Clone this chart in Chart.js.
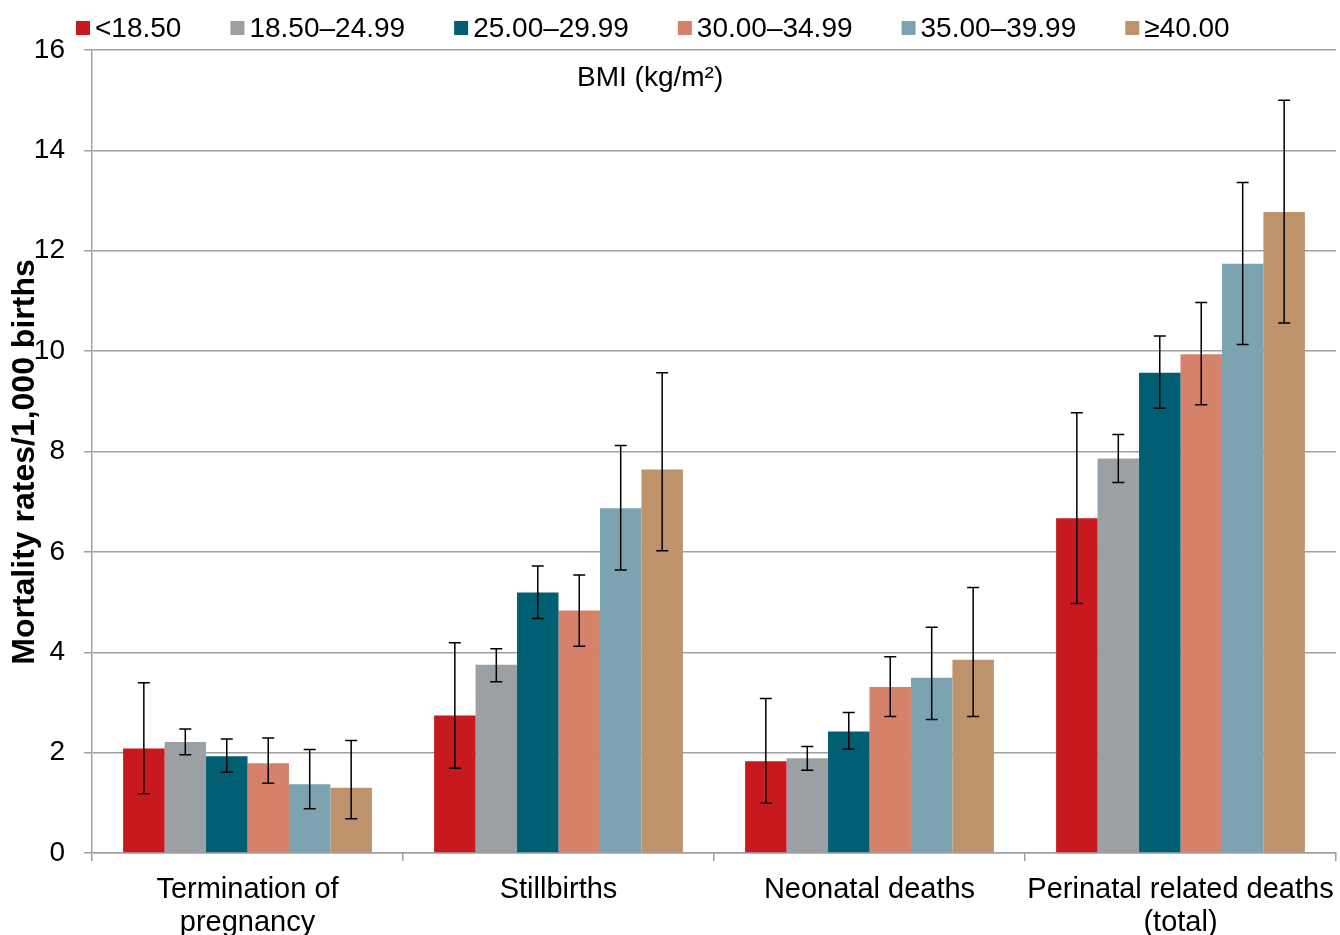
<!DOCTYPE html>
<html>
<head>
<meta charset="utf-8">
<script src="https://cdn.jsdelivr.net/npm/chart.js@4.4.0/dist/chart.umd.min.js"></script>
<style>
  html, body { margin: 0; padding: 0; background: #fff; overflow: hidden; }
</style>
</head>
<body>
<canvas id="bmi_chart" width="1340" height="935"></canvas>
<script>
// CHART DATA
const categories = [["Termination of", "pregnancy"], "Stillbirths", "Neonatal deaths", ["Perinatal related deaths", "(total)"]];
const bmi_groups = ["<18.50", "18.50–24.99", "25.00–29.99", "30.00–34.99", "35.00–39.99", "≥40.00"];
const y_ticks = [0, 2, 4, 6, 8, 10, 12, 14, 16];

// rates per 1,000 births
const rate_under = [2.08, 2.74, 1.83, 6.67];
const rate_normal = [2.21, 3.75, 1.89, 7.86];
const rate_over = [1.93, 5.19, 2.42, 9.57];
const rate_obese1 = [1.79, 4.83, 3.31, 9.94];
const rate_obese2 = [1.37, 6.87, 3.49, 11.74];
const rate_obese3 = [1.30, 7.64, 3.85, 12.77];

// 95% CI lower limits
const low_under = [1.18, 1.69, 0.99, 4.97];
const low_normal = [1.96, 3.41, 1.65, 7.38];
const low_over = [1.61, 4.67, 2.07, 8.86];
const low_obese1 = [1.39, 4.12, 2.72, 8.93];
const low_obese2 = [0.88, 5.64, 2.66, 10.13];
const low_obese3 = [0.68, 6.02, 2.72, 10.56];

// 95% CI upper limits
const high_under = [3.39, 4.19, 3.08, 8.77];
const high_normal = [2.47, 4.07, 2.12, 8.34];
const high_over = [2.27, 5.72, 2.80, 10.30];
const high_obese1 = [2.29, 5.54, 3.91, 10.97];
const high_obese2 = [2.06, 8.12, 4.50, 13.36];
const high_obese3 = [2.24, 9.57, 5.29, 15.00];

const colors = ["#c8191f", "#9aa0a3", "#005f73", "#d6826a", "#7ba3b1", "#be936c"];
const rates = [rate_under, rate_normal, rate_over, rate_obese1, rate_obese2, rate_obese3];
const lows = [low_under, low_normal, low_over, low_obese1, low_obese2, low_obese3];
const highs = [high_under, high_normal, high_over, high_obese1, high_obese2, high_obese3];

const FONT = '"Liberation Sans", Arial, sans-serif';
const gridColor = "#a0a0a0";

// error bars drawn on top of the bars
const errorBars = {
  id: "errorBars",
  afterDatasetsDraw(chart) {
    const ctx = chart.ctx;
    const yScale = chart.scales.y;
    ctx.save();
    ctx.strokeStyle = "#000";
    ctx.lineWidth = 1.5;
    chart.data.datasets.forEach((ds, d) => {
      chart.getDatasetMeta(d).data.forEach((bar, i) => {
        const x = bar.x;
        const top = yScale.getPixelForValue(ds.high[i]);
        const bottom = yScale.getPixelForValue(ds.low[i]);
        ctx.beginPath();
        ctx.moveTo(x, top);
        ctx.lineTo(x, bottom);
        ctx.moveTo(x - 6, top);
        ctx.lineTo(x + 6, top);
        ctx.moveTo(x - 6, bottom);
        ctx.lineTo(x + 6, bottom);
        ctx.stroke();
      });
    });
    ctx.restore();
  }
};

// legend row, BMI caption and y axis title
const topLegend = {
  id: "topLegend",
  afterDraw(chart) {
    const ctx = chart.ctx;
    ctx.save();
    ctx.font = "28px " + FONT;
    ctx.textBaseline = "middle";
    let x = 76;
    chart.data.datasets.forEach((ds) => {
      ctx.fillStyle = ds.backgroundColor;
      ctx.fillRect(x, 21, 14, 14);
      ctx.fillStyle = "#000";
      ctx.fillText(ds.label, x + 19, 29);
      x += 19 + ctx.measureText(ds.label).width + 49;
    });
    ctx.fillText("BMI (kg/m²)", 577, chart.chartArea.top + 28);

    // y title (sits a little below the axis middle in the original)
    ctx.translate(25, 462);
    ctx.rotate(-Math.PI / 2);
    ctx.font = "bold 32px " + FONT;
    ctx.textAlign = "center";
    ctx.fillText("Mortality rates/1,000 births", 0, 0);
    ctx.restore();
  }
};

const datasets = bmi_groups.map((label, k) => ({
  label: label,
  data: rates[k],
  low: lows[k],
  high: highs[k],
  backgroundColor: colors[k],
  borderWidth: 0,
  categoryPercentage: 0.8,
  barPercentage: 1.0
}));

new Chart(document.getElementById("bmi_chart"), {
  type: "bar",
  data: { labels: categories, datasets: datasets },
  plugins: [errorBars, topLegend],
  options: {
    responsive: false,
    animation: false,
    layout: { padding: { top: 50, right: 4, left: 0, bottom: 0 } },
    plugins: {
      legend: { display: false },
      tooltip: { enabled: false }
    },
    scales: {
      x: {
        offset: true,
        grid: { drawOnChartArea: false, drawTicks: true, tickLength: 8, color: gridColor, lineWidth: 1.5, offset: true },
        border: { color: gridColor, width: 1.5 },
        ticks: {
          color: "#000",
          font: { family: FONT, size: 29, lineHeight: 1.12 },
          maxRotation: 0,
          autoSkip: false,
          padding: 13
        },
        afterFit(scale) {
          scale.height = 82;
          scale.paddingLeft = 0;
          scale.paddingRight = 0;
        }
      },
      y: {
        min: 0,
        max: 16,
        afterBuildTicks(scale) { scale.ticks = y_ticks.map(v => ({ value: v })); },
        grid: { color: gridColor, lineWidth: 1.5, tickLength: 8 },
        border: { color: gridColor, width: 1.5 },
        ticks: {
          color: "#000",
          font: { family: FONT, size: 28 },
          padding: 19
        },
        afterFit(scale) { scale.width = 92; }
      }
    }
  }
});
</script>
</body>
</html>
